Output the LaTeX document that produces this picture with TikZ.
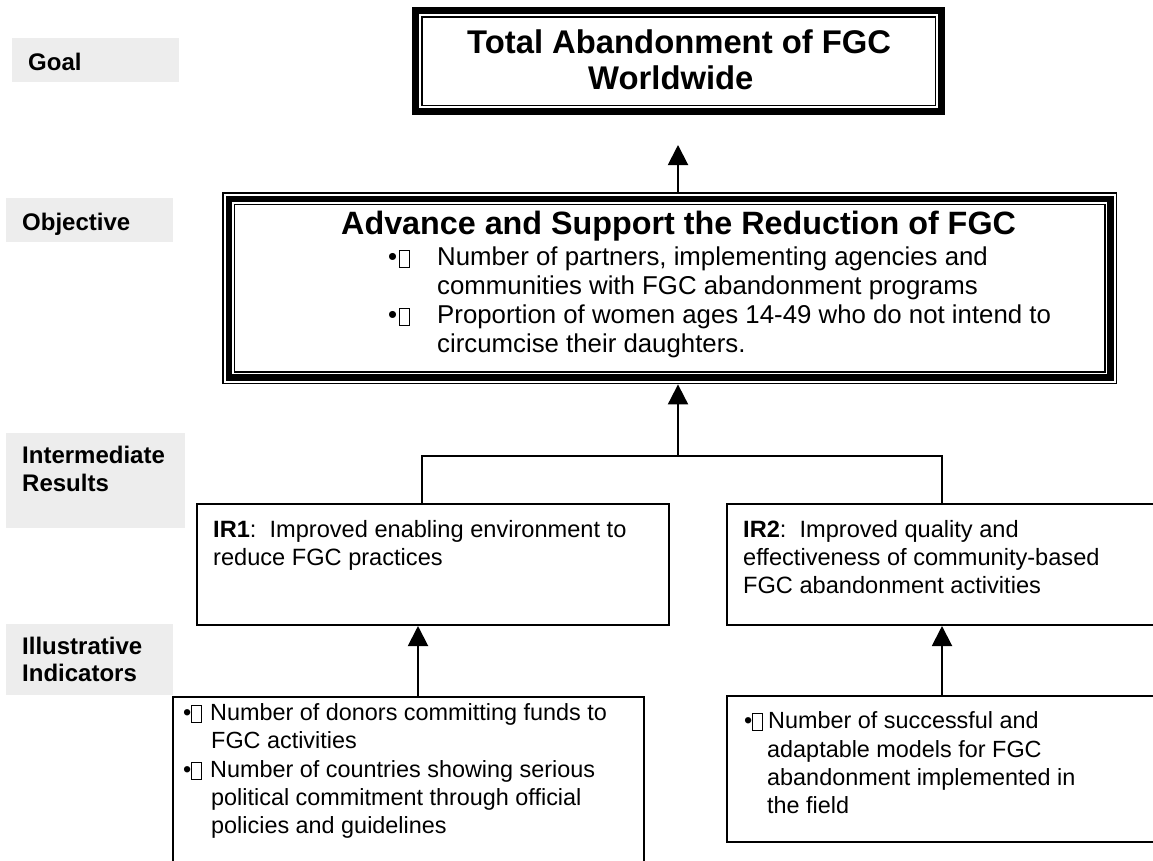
\documentclass[tikz,border=0pt]{standalone}
\usepackage{fontspec}
\setmainfont{Liberation Sans}
\usetikzlibrary{arrows.meta}
\definecolor{labgray}{RGB}{237,237,237}
\newcommand\tofu{\raisebox{-2pt}{\setlength\fboxsep{0pt}\setlength\fboxrule{0.9pt}\fbox{\rule{0pt}{16pt}\hspace{9pt}}}}
\tikzset{
  ln/.style={anchor=base west, inner sep=0pt, font=\fontsize{23.6}{27}\selectfont},
  lnind/.style={anchor=base west, inner sep=0pt, font=\fontsize{23.4}{27}\selectfont},
  lnobj/.style={anchor=base west, inner sep=0pt, font=\fontsize{25.8}{29}\selectfont},
  lab/.style={anchor=base west, inner sep=0pt, font=\fontsize{24}{27.6}\selectfont\bfseries},
  ttl/.style={anchor=base west, inner sep=0pt, font=\fontsize{32.3}{37}\selectfont\bfseries},
  ttlg/.style={anchor=base west, inner sep=0pt, font=\fontsize{32.8}{37}\selectfont\bfseries},
  graybox/.style={fill=labgray, draw=none, anchor=north west, inner sep=0pt},
  plainbox/.style={draw, line width=2pt, anchor=north west, inner sep=0pt},
  framebox/.style={draw=none, anchor=north west, inner sep=0pt},
  conn/.style={line width=2pt},
  arr/.style={line width=2pt, -{Triangle[width=20pt,length=20pt]}},
}
\begin{document}
\begin{tikzpicture}[x=1pt,y=-1pt]
\useasboundingbox (0,0) rectangle (1153,860);
\fill[white] (0,0) rectangle (1153,860);
\clip (0,0) rectangle (1153,860);

% gray level labels
\node[graybox, minimum width=167pt, minimum height=44pt] (gG) at (12,38) {};
\node[lab] (tG) at (28,70) {Goal};
\node[graybox, minimum width=167pt, minimum height=44pt] (gO) at (6,198) {};
\node[lab] (tO) at (22,230) {Objective};
\node[graybox, minimum width=179pt, minimum height=95pt] (gI) at (6,433) {};
\node[lab] (tI1) at (22,463) {Intermediate};
\node[lab] (tI2) at (22,491) {Results};
\node[graybox, minimum width=167pt, minimum height=71pt] (gL) at (6,624) {};
\node[lab] (tL1) at (22,654) {Illustrative};
\node[lab] (tL2) at (22,681) {Indicators};

% goal box (thick-thin)
\node[framebox, minimum width=533pt, minimum height=108pt] (goal) at (412,7) {};
\draw[line width=7pt] ([shift={(3.5pt,-3.5pt)}]goal.north west) rectangle ([shift={(-3.5pt,3.5pt)}]goal.south east);
\draw[line width=1.5pt] ([shift={(10pt,-10pt)}]goal.north west) rectangle ([shift={(-10pt,10pt)}]goal.south east);
\node[ttlg] (g1) at (467,53) {Total Abandonment of FGC};
\node[ttlg] (g2) at (588,89) {Worldwide};

% objective box (thin-thick-thin)
\node[framebox, minimum width=895pt, minimum height=192pt] (obj) at (222,192) {};
\draw[line width=1.5pt] ([shift={(0.75pt,-0.75pt)}]obj.north west) rectangle ([shift={(-0.75pt,0.75pt)}]obj.south east);
\draw[line width=6.5pt] ([shift={(7pt,-7pt)}]obj.north west) rectangle ([shift={(-7pt,7pt)}]obj.south east);
\draw[line width=1.2pt] ([shift={(12.5pt,-12.5pt)}]obj.north west) rectangle ([shift={(-12.5pt,12.5pt)}]obj.south east);
\node[ttl] (o0) at (341,234) {Advance and Support the Reduction of FGC};
\node[lnobj] (ob1) at (388,265) {•\hspace{2pt}\tofu};
\node[lnobj] (o1) at (437,265) {Number of partners, implementing agencies and};
\node[lnobj] (o2) at (437,294) {communities with FGC abandonment programs};
\node[lnobj] (ob2) at (388,323) {•\hspace{2pt}\tofu};
\node[lnobj] (o3) at (437,323) {Proportion of women ages 14-49 who do not intend to};
\node[lnobj] (o4) at (437,352) {circumcise their daughters.};

% intermediate results
\node[plainbox, minimum width=472pt, minimum height=121pt] (ir1) at (196,503) {};
\node[ln] (r1) at (213,537) {\textbf{IR1}:\ \ Improved enabling environment to};
\node[ln] (r2) at (213,565) {reduce FGC practices};
\node[plainbox, minimum width=440pt, minimum height=121pt] (ir2) at (726,503) {};
\node[ln] (s1) at (743,537) {\textbf{IR2}:\ \ Improved quality and};
\node[ln] (s2) at (743,565) {effectiveness of community-based};
\node[ln] (s3) at (743,593) {FGC abandonment activities};

% indicators
\node[plainbox, minimum width=471pt, minimum height=180pt] (ind1) at (172,696) {};
\node[lnind] (ab1) at (183,720) {•\tofu};
\node[lnind] (a1) at (210,720) {Number of donors committing funds to};
\node[lnind] (a2) at (211,748) {FGC activities};
\node[lnind] (ab2) at (183,777) {•\tofu};
\node[lnind] (a3) at (210,777) {Number of countries showing serious};
\node[lnind] (a4) at (211,805) {political commitment through official};
\node[lnind] (a5) at (211,833) {policies and guidelines};
\node[plainbox, minimum width=440pt, minimum height=146pt] (ind2) at (726,695) {};
\node[lnind] (bb1) at (744,728) {•\tofu};
\node[lnind] (b1) at (768,728) {Number of successful and};
\node[lnind] (b2) at (767,757) {adaptable models for FGC};
\node[lnind] (b3) at (767,785) {abandonment implemented in};
\node[lnind] (b4) at (767,813) {the field};

% connectors
\coordinate (gtip) at (678,145);
\draw[arr] (gtip |- obj.north) -- (gtip);
\coordinate (brm) at (678,456);
\coordinate (brl) at (422,456);
\coordinate (brr) at (942,456);
\draw[conn] (brl |- ir1.north) -- (brl) -- (brr) -- (brr |- ir2.north);
\draw[arr] (brm) -- (brm |- obj.south);
\coordinate (x1) at (418,0);
\coordinate (x2) at (942,0);
\draw[arr] (x1 |- ind1.north) -- (x1 |- ir1.south);
\draw[arr] (x2 |- ind2.north) -- (x2 |- ir2.south);
\end{tikzpicture}
\end{document}
